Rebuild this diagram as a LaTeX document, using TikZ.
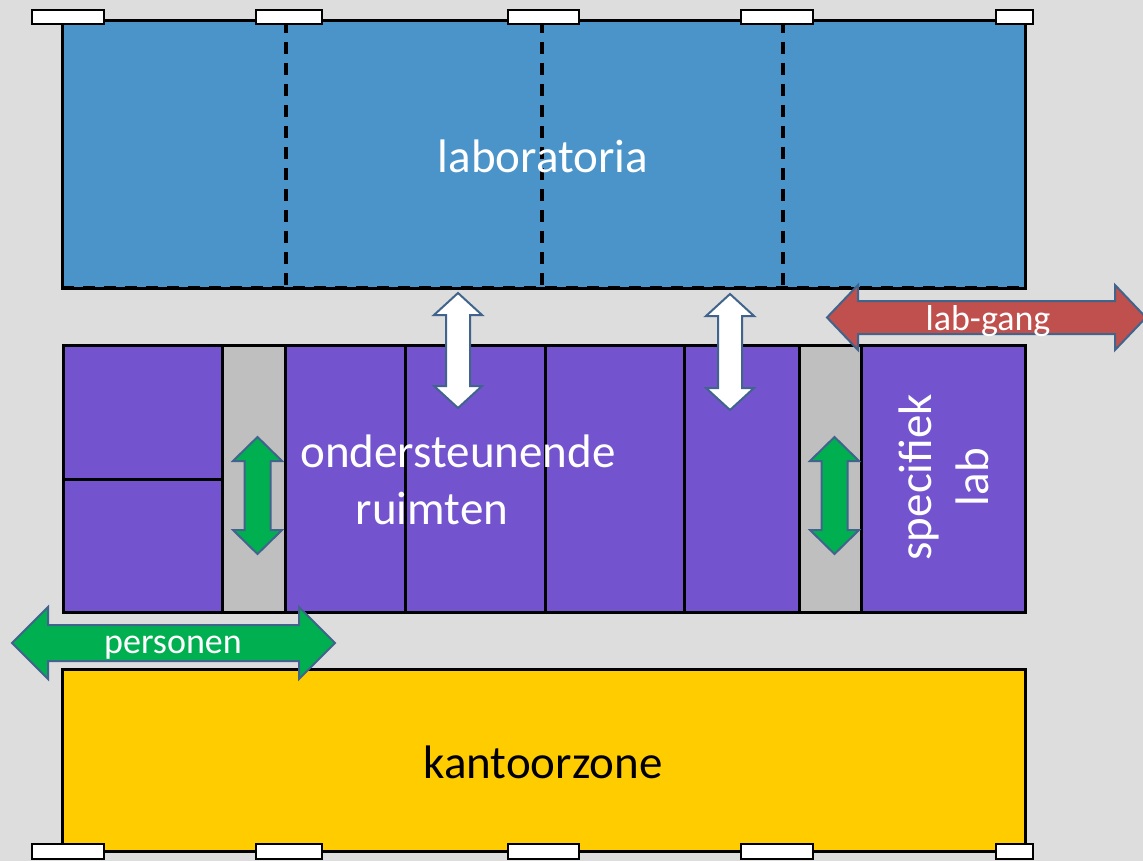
\documentclass[tikz,border=0pt]{standalone}
\usepackage{fontspec}
\setmainfont{Carlito}
\usetikzlibrary{positioning}
\definecolor{achtergrond}{RGB}{221,221,221}
\definecolor{labblauw}{RGB}{75,148,202}
\definecolor{paars}{RGB}{116,84,206}
\definecolor{ganggrijs}{RGB}{191,191,191}
\definecolor{kantoorgeel}{RGB}{255,204,0}
\definecolor{pijlrand}{RGB}{64,100,140}
\definecolor{pijlrood}{RGB}{192,80,77}
\definecolor{pijlgroen}{RGB}{0,176,80}

\tikzset{
  zone/.style={draw=black, line width=3pt},
  raam/.style={draw=black, fill=white, line width=2.5pt},
  pijl/.style={draw=pijlrand, line width=2pt, line join=miter},
  groot/.style={font=\fontsize{47}{57}\selectfont, text=white, inner sep=0pt},
  klein/.style={font=\fontsize{36}{43}\selectfont, text=white, inner sep=0pt},
  pics/dpijl/.style n args={4}{code={
    \path[pic actions] (-#1,0) -- (-#1+#2,-#3) -- (-#1+#2,-#4) -- (#1-#2,-#4)
      -- (#1-#2,-#3) -- (#1,0) -- (#1-#2,#3) -- (#1-#2,#4) -- (-#1+#2,#4)
      -- (-#1+#2,#3) -- cycle;
  }}
}

\begin{document}
\begin{tikzpicture}[x=1pt, y=-1pt]
  \clip (0,0) rectangle (1143,861);
  \fill[achtergrond] (0,0) rectangle (1143,861);

  % laboratoria
  \draw[zone, fill=labblauw] (62,21) rectangle (1025,288);
  \foreach \x in {286,542,783}
    \draw[line width=3.5pt, dash pattern=on 12pt off 9pt] (\x,21) -- (\x,288);
  \draw[line width=2pt, dash pattern=on 12pt off 9pt] (62,286.5) -- (1025,286.5);
  \node (lab) [groot] at (543,156) {laboratoria};

  % ondersteunende ruimten
  \draw[zone, fill=paars] (63,345) rectangle (1025,612);
  \draw[zone, fill=ganggrijs] (222,345) rectangle (285,612);
  \draw[zone, fill=ganggrijs] (799,345) rectangle (861,612);
  \foreach \x in {405,545,684}
    \draw[zone] (\x,345) -- (\x,612);
  \draw[zone] (63,479) -- (222,479);
  \node (ruimten) [groot, align=center] at (458,480) {ondersteunende\\ruimten\hspace*{52pt}};
  \node (specifiek) [groot, align=center, rotate=90] at (944,477) {specifiek\\lab};

  % kantoorzone
  \draw[zone, fill=kantoorgeel] (62,669) rectangle (1025,851);
  \node (kantoor) [groot, text=black] at (543,762) {kantoorzone};

  % pijlen
  \pic[pijl, fill=white, rotate=90] at (458,350.5) {dpijl={57.5}{22}{24}{12}};
  \pic[pijl, fill=white, rotate=90] at (730,352) {dpijl={58}{22}{24}{12}};
  \pic[pijl, fill=pijlgroen, rotate=90] at (257.5,495.5) {dpijl={58.5}{24}{24.5}{13}};
  \pic[pijl, fill=pijlgroen, rotate=90] at (834.5,495.5) {dpijl={58.5}{24}{24.5}{13}};
  \pic[pijl, fill=pijlrood] at (986.5,317.5) {dpijl={159.5}{31}{32.5}{16.5}};
  \node (labgang) [klein] at (988,321) {lab-gang};
  \pic[pijl, fill=pijlgroen] at (173.5,643) {dpijl={161.5}{36}{36}{18}};
  \node (personen) [klein] at (173,648) {personen};

  % ramen
  \foreach \a/\b in {32/104,256/322,508/579,741/813,996/1033} {
    \draw[raam] (\a,10) rectangle (\b,24);
    \draw[raam] (\a,844) rectangle (\b,859);
  }
\end{tikzpicture}
\end{document}
